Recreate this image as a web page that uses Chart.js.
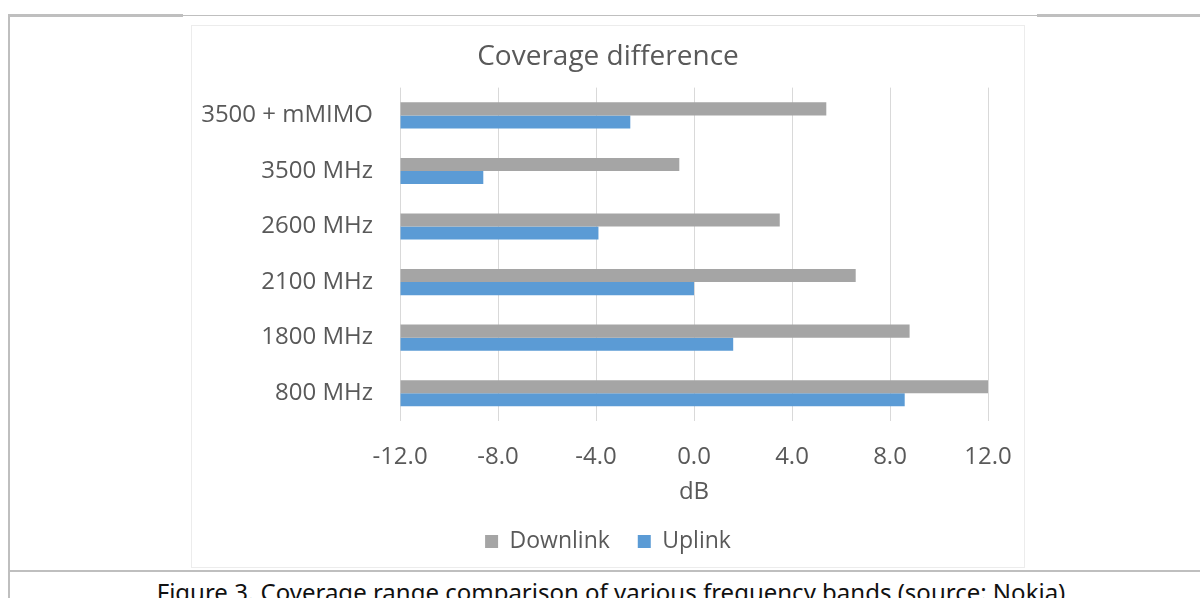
<!DOCTYPE html>
<html lang="en">
<head>
    <meta charset="UTF-8">
    <title>Coverage difference</title>
    <script src="https://cdn.jsdelivr.net/npm/chart.js"></script>
    <style>
        body { margin: 0; background: #fff; width: 1200px; height: 598px; overflow: hidden; position: relative; font-family: 'Open Sans', sans-serif; }
        .line { position: absolute; background: #bfbfbf; }
        .chart-box { position: absolute; left: 191px; top: 25px; width: 832px; height: 541px; border: 1px solid #ececec; }
        .caption { position: absolute; left: 0; width: 1222px; top: 575px; text-align: center; font-family: 'Noto Sans', sans-serif; font-size: 24px; color: #111; white-space: nowrap; }
    </style>
</head>
<body>
    <!-- frame around the figure -->
    <div class="line" style="left:8px; top:14px; width:175px; height:3px;"></div>
    <div class="line" style="left:183px; top:15px; width:854px; height:1px;"></div>
    <div class="line" style="left:1037px; top:14px; width:163px; height:3px;"></div>
    <div class="line" style="left:8px; top:14px; width:2px; height:584px;"></div>
    <div class="line" style="left:8px; top:570px; width:1192px; height:2px;"></div>

    <div class="chart-box">
        <canvas id="coverageChart" width="832" height="541"></canvas>
    </div>
    <div class="caption">Figure 3. Coverage range comparison of various frequency bands (source: Nokia)</div>

    <script>
        // Data (top to bottom)
        const bands = ['3500 + mMIMO', '3500 MHz', '2600 MHz', '2100 MHz', '1800 MHz', '800 MHz'];
        const downlink = [5.4, -0.6, 3.5, 6.6, 8.8, 12.0];
        const uplink = [-2.6, -8.6, -3.9, 0.0, 1.6, 8.6];
        const xTicks = [-12, -8, -4, 0, 4, 8, 12];

        const textColor = '#595959';
        const font = "'Open Sans', sans-serif";

        const ctx = document.getElementById('coverageChart').getContext('2d');
        const coverageChart = new Chart(ctx, {
            type: 'bar',
            data: {
                labels: bands,
                datasets: [
                    { label: 'Downlink', data: downlink, backgroundColor: '#a5a5a5', base: -12 },
                    { label: 'Uplink', data: uplink, backgroundColor: '#5b9bd5', base: -12 }
                ]
            },
            options: {
                indexAxis: 'y',
                responsive: false,
                animation: false,
                layout: { padding: { left: 0, right: 0, top: 0, bottom: 4 } },
                datasets: { bar: { categoryPercentage: 0.47, barPercentage: 1.0 } },
                scales: {
                    x: {
                        min: -12, max: 12,
                        afterBuildTicks: (scale) => { scale.ticks = xTicks.map(v => ({ value: v })); },
                        afterFit: (scale) => { scale.height = 99; scale.paddingRight = 36; },
                        grid: { color: '#d9d9d9', drawTicks: false },
                        border: { display: false },
                        ticks: { color: textColor, font: { family: font, size: 24 }, padding: 22,
                                 callback: (v) => Number(v).toFixed(1) },
                        title: { display: true, text: 'dB', color: textColor, font: { family: font, size: 24 },
                                 padding: { top: 0, bottom: 13 } }
                    },
                    y: {
                        afterFit: (scale) => { scale.width = 208; },
                        grid: { display: false },
                        border: { display: false },
                        ticks: { color: textColor, font: { family: font, size: 24 }, padding: 19 }
                    }
                },
                plugins: {
                    title: { display: true, text: 'Coverage difference', color: textColor,
                             font: { family: font, size: 28, weight: 'normal' }, padding: { top: 14, bottom: 14 } },
                    legend: { position: 'bottom',
                              labels: { color: textColor, font: { family: font, size: 23 }, boxWidth: 13, boxHeight: 13, padding: 10,
                                        generateLabels: (chart) => {
                                            const items = Chart.defaults.plugins.legend.labels.generateLabels(chart);
                                            items[0].text += '   ';
                                            return items;
                                        } } },
                    tooltip: { enabled: false }
                }
            }
        });
    </script>
</body>
</html>
